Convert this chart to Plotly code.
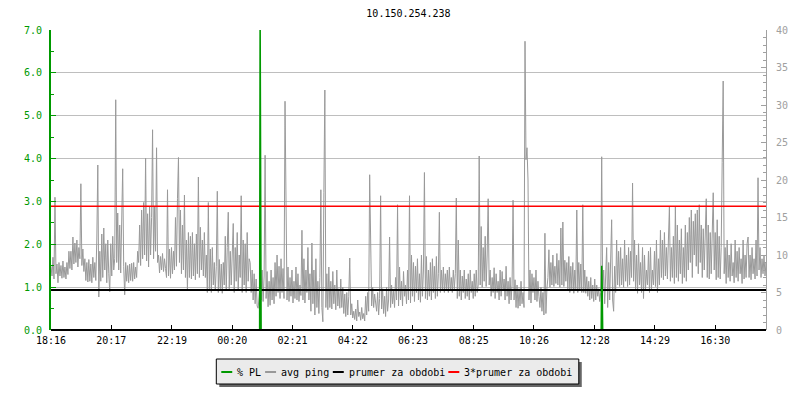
import plotly.graph_objs as go

# %% data (ping in ms on the right axis, packet loss in % on the left)
host = "10.150.254.238"

tick_minutes = [0, 121, 243, 364, 485, 606, 727, 849, 970, 1092, 1213, 1334]
tick_labels = ["18:16", "20:17", "22:19", "00:20", "02:21", "04:22",
               "06:23", "08:25", "10:26", "12:28", "14:29", "16:30"]

# one ping sample every 2 minutes, starting 18:16
sample_minutes = list(range(0, 1440, 2))

avg_ping = [
    8.5, 7.2, 9.7, 6.8, 17.7, 7.5, 8.8, 6.3, 9.0, 7.2, 8.6, 6.9, 9.2, 7.0, 8.4, 6.8, 9.0, 7.4, 10.5, 8.2,
    10.5, 8.0, 12.4, 8.8, 11.6, 9.0, 12.0, 8.4, 11.0, 9.5, 19.5, 8.6, 10.8, 7.8, 9.5, 6.6, 9.0, 6.4, 9.4, 6.5,
    8.8, 6.3, 9.7, 7.0, 9.0, 6.6, 12.0, 22.0, 4.4, 10.5, 6.5, 12.8, 7.0, 13.6, 8.0, 11.5, 6.3, 12.0, 7.5, 5.1,
    11.5, 7.2, 12.5, 8.0, 9.5, 30.7, 9.0, 15.6, 8.0, 14.0, 7.6, 13.0, 21.5, 8.5, 4.7, 9.0, 6.5, 8.6, 6.3, 8.8,
    6.6, 8.9, 6.5, 9.0, 6.8, 8.4, 7.0, 10.5, 9.0, 14.0, 8.6, 16.0, 9.5, 17.0, 10.0, 22.9, 9.2, 15.5, 8.4, 16.5,
    10.0, 15.0, 26.7, 9.5, 16.5, 10.5, 24.3, 9.0, 10.0, 7.6, 9.8, 8.0, 10.2, 7.8, 9.5, 8.2, 7.0, 18.7, 7.2, 10.8,
    6.9, 11.0, 7.5, 10.5, 8.0, 15.0, 8.5, 17.5, 23.0, 9.0, 16.0, 7.5, 14.0, 8.0, 18.0, 7.0, 12.0, 5.3, 13.0, 7.0,
    12.5, 6.8, 13.0, 7.2, 11.5, 6.7, 12.8, 7.5, 20.4, 7.0, 13.7, 8.0, 12.0, 7.2, 13.0, 7.0, 10.0, 5.0, 17.0, 5.5,
    10.8, 5.0, 11.0, 6.0, 9.0, 5.2, 8.5, 18.5, 5.0, 9.4, 5.5, 8.8, 4.9, 9.0, 6.0, 12.5, 5.2, 11.0, 15.7, 5.5,
    10.5, 6.0, 12.0, 14.2, 5.0, 11.0, 6.5, 13.0, 5.2, 10.0, 7.0, 17.9, 5.0, 12.0, 6.0, 11.5, 5.0, 13.0, 6.5, 9.5,
    9.0, 5.0, 8.0, 4.0, 7.5, 3.5, 6.8, 3.2, 2.9, 5.0, 6.0, 4.0, 8.0, 3.8, 7.2, 23.3, 4.2, 7.8, 3.1, 6.5,
    3.3, 8.0, 4.0, 7.0, 3.5, 9.0, 4.5, 10.0, 5.0, 8.5, 4.2, 9.5, 5.0, 8.2, 4.2, 30.5, 19.9, 4.0, 8.4, 3.8,
    7.0, 4.5, 8.0, 3.6, 6.5, 4.2, 8.4, 4.0, 7.5, 3.8, 6.0, 4.6, 13.3, 4.0, 9.5, 3.6, 8.0, 5.0, 11.0, 4.0,
    7.5, 2.5, 11.6, 3.5, 8.0, 2.0, 9.5, 3.0, 6.5, 2.2, 7.0, 18.7, 3.0, 1.1, 18.3, 32.0, 3.0, 7.5, 2.7, 8.4,
    3.0, 6.5, 2.8, 7.8, 3.5, 6.0, 2.7, 8.0, 3.2, 5.5, 2.9, 6.8, 3.0, 5.7, 2.2, 4.8, 1.8, 5.0, 2.0, 4.5,
    9.6, 2.0, 3.5, 1.6, 2.5, 1.4, 2.8, 1.2, 4.0, 1.8, 2.4, 1.3, 3.0, 1.5, 2.2, 1.2, 4.5, 2.0, 5.0, 2.5,
    20.7, 12.0, 3.2, 5.7, 3.0, 4.8, 3.5, 2.5, 5.0, 2.0, 4.2, 17.9, 2.8, 5.5, 2.2, 4.5, 1.8, 5.7, 2.5, 4.0,
    12.4, 3.0, 6.0, 3.5, 5.2, 3.0, 7.0, 4.0, 16.7, 3.2, 8.4, 4.0, 6.5, 3.2, 7.8, 4.5, 6.0, 3.5, 8.0, 4.0,
    17.9, 3.6, 10.0, 4.5, 9.0, 3.8, 8.5, 5.0, 9.5, 4.0, 7.5, 3.7, 10.0, 4.5, 8.0, 21.0, 4.2, 9.8, 4.0, 8.0,
    4.5, 9.0, 4.0, 9.5, 5.0, 8.5, 4.2, 9.8, 4.5, 7.5, 15.7, 5.0, 8.0, 5.2, 8.4, 5.0, 7.5, 5.5, 8.0, 5.0,
    8.4, 5.2, 7.0, 5.0, 8.0, 5.5, 7.5, 17.6, 4.2, 12.0, 4.5, 8.0, 4.0, 7.2, 5.0, 8.0, 4.2, 6.8, 4.5, 7.5,
    4.0, 8.0, 5.0, 6.5, 4.2, 7.5, 4.5, 8.0, 5.0, 6.0, 23.2, 6.0, 13.8, 5.7, 11.0, 6.5, 12.5, 5.8, 10.0, 17.5,
    6.0, 8.0, 4.5, 7.0, 5.0, 8.3, 4.2, 7.5, 5.0, 6.5, 4.0, 8.0, 4.5, 7.8, 5.2, 6.8, 4.0, 8.5, 4.5, 6.5,
    3.5, 7.0, 4.0, 6.0, 17.3, 4.0, 6.7, 3.0, 6.0, 2.9, 5.5, 3.2, 6.5, 3.5, 5.0, 3.0, 38.5, 22.7, 24.3, 20.0,
    4.0, 8.0, 3.6, 7.5, 5.0, 7.0, 4.0, 8.0, 3.8, 6.5, 4.5, 3.0, 5.7, 2.5, 5.0, 2.0, 12.9, 2.2, 5.5, 7.0,
    10.7, 5.7, 9.0, 6.0, 10.0, 5.8, 8.5, 6.2, 10.2, 6.0, 9.3, 5.7, 13.6, 6.0, 14.4, 5.8, 9.3, 6.5, 9.0, 5.5,
    9.8, 5.0, 8.5, 5.5, 9.0, 4.9, 8.0, 5.5, 16.0, 5.0, 9.0, 5.2, 8.8, 5.0, 16.7, 5.0, 8.0, 4.9, 7.1, 4.5,
    6.5, 4.0, 7.0, 4.2, 6.0, 3.8, 6.8, 4.0, 6.0, 4.5, 5.5, 3.8, 5.0, 23.1, 5.0, 8.0, 3.5, 9.0, 11.0, 3.0,
    9.0, 4.0, 8.5, 14.7, 4.0, 2.5, 8.5, 5.0, 12.0, 6.0, 10.5, 5.8, 11.0, 6.0, 9.5, 5.7, 12.0, 6.5, 10.0, 5.8,
    11.0, 6.0, 10.5, 7.0, 19.6, 6.5, 12.0, 5.5, 10.0, 4.9, 11.5, 6.0, 9.0, 5.0, 11.0, 4.2, 10.0, 5.5, 8.0, 6.0,
    10.5, 5.0, 11.0, 5.5, 8.0, 6.0, 10.5, 5.8, 12.0, 5.0, 9.5, 6.0, 13.3, 7.0, 12.0, 6.7, 13.0, 7.2, 11.0, 6.8,
    12.0, 16.4, 6.5, 11.0, 7.0, 12.5, 6.2, 16.4, 7.0, 14.0, 6.5, 12.0, 7.5, 13.5, 6.2, 11.0, 7.0, 14.0, 6.5, 13.0,
    8.0, 15.0, 9.0, 16.0, 7.0, 14.5, 10.0, 15.5, 8.5, 16.0, 7.5, 16.7, 9.0, 14.0, 7.0, 13.5, 8.0, 12.0, 17.5, 7.0,
    14.0, 6.8, 13.0, 7.5, 12.0, 18.3, 8.0, 13.0, 6.7, 14.7, 7.0, 12.5, 6.8, 11.0, 22.3, 33.2, 7.5, 11.0, 6.2, 12.0,
    7.0, 10.0, 6.5, 11.5, 7.2, 9.0, 6.3, 12.0, 7.0, 10.5, 6.5, 11.0, 7.5, 9.5, 6.2, 12.0, 6.8, 10.0, 7.0, 11.5,
    12.4, 7.0, 10.0, 6.7, 11.0, 7.5, 9.5, 6.8, 12.0, 7.2, 20.3, 8.0, 11.0, 7.0, 9.5, 7.5, 10.0, 7.2, 9.0, 8.0,
]

# packet loss: zero except for two short bursts
pl_minutes = [0, 419, 420, 421, 422, 1105, 1106, 1107, 1108, 1436]
packet_loss = [0.0, 0.0, 7.5, 3.5, 0.0, 0.0, 1.5, 1.0, 0.0, 0.0]

period_mean = 5.33
triple_mean = 16.5

legend_names = ["% PL", "avg ping", "prumer za obdobi", "3*prumer za obdobi"]
legend_colors = ["#009900", "#999999", "#000000", "#ff0000"]

# %% figure
MONO = "DejaVu Sans Mono"
L, R, T, B = 51, 31, 30, 70
W, H = 800, 400


def px_x(px):
    return (px - L) / (W - L - R)


def px_y(py):
    return (H - B - py) / (H - T - B)


x_end = 1436

fig = go.Figure()
fig.add_trace(go.Scatter(x=sample_minutes, y=avg_ping, mode="lines",
                         line=dict(color=legend_colors[1], width=1), yaxis="y"))
fig.add_trace(go.Scatter(x=[0, x_end], y=[period_mean, period_mean], mode="lines",
                         line=dict(color=legend_colors[2], width=2), yaxis="y"))
fig.add_trace(go.Scatter(x=[0, x_end], y=[triple_mean, triple_mean], mode="lines",
                         line=dict(color=legend_colors[3], width=1.5), yaxis="y"))
fig.add_trace(go.Scatter(x=pl_minutes, y=packet_loss, mode="lines",
                         line=dict(color=legend_colors[0], width=1.5), yaxis="y2"))

shapes = [
    # x axis line drawn above the traces so the zero PL line hides under it
    dict(type="line", xref="paper", yref="paper", x0=0, x1=1, y0=0, y1=0,
         line=dict(color="black", width=2), layer="above"),
    # legend shadow and box
    dict(type="rect", xref="paper", yref="paper",
         x0=px_x(220), x1=px_x(584), y0=px_y(362), y1=px_y(387),
         fillcolor="#666666", line=dict(width=0), layer="above"),
    dict(type="rect", xref="paper", yref="paper",
         x0=px_x(217), x1=px_x(581), y0=px_y(359), y1=px_y(384),
         fillcolor="#ebebeb", line=dict(color="black", width=1), layer="above"),
]
annotations = []
legend_line_x = [222, 266, 334, 450]
legend_text_x = [236, 280, 348, 464]
for name, color, lx, tx in zip(legend_names, legend_colors, legend_line_x, legend_text_x):
    shapes.append(dict(type="line", xref="paper", yref="paper",
                       x0=px_x(lx), x1=px_x(lx + 11), y0=px_y(372), y1=px_y(372),
                       line=dict(color=color, width=2), layer="above"))
    annotations.append(dict(text=name, xref="paper", yref="paper", x=px_x(tx), y=px_y(372),
                            xanchor="left", yanchor="middle", showarrow=False,
                            font=dict(family=MONO, size=10, color="black")))

fig.update_layout(
    width=W, height=H,
    margin=dict(l=L, r=R, t=T, b=B),
    paper_bgcolor="white", plot_bgcolor="white",
    showlegend=False,
    hovermode=False,
    title=dict(text=host, x=0.5, xref="paper", xanchor="center",
               y=1 - 13 / H, yanchor="middle",
               font=dict(family=MONO, size=10, color="black")),
    xaxis=dict(range=[0, x_end], tickvals=tick_minutes, ticktext=tick_labels,
               showgrid=False, zeroline=False, showline=False,
               ticks="inside", ticklen=5, tickcolor="black", tickwidth=1,
               tickfont=dict(family=MONO, size=10, color="black"),
               ticklabelstandoff=3),
    yaxis=dict(range=[0, 40], side="right", dtick=5, showgrid=False, zeroline=False,
               showline=True, linecolor="#a0a0a0", linewidth=1,
               ticks="inside", ticklen=5, tickcolor="#a0a0a0",
               minor=dict(dtick=1, ticks="inside", ticklen=3, tickcolor="#a0a0a0"),
               tickfont=dict(family=MONO, size=10, color="#a0a0a0"),
               ticklabelstandoff=7),
    yaxis2=dict(range=[0, 7], overlaying="y", side="left", dtick=1, tickformat=".1f",
                showgrid=True, gridcolor="#bebebe", gridwidth=1, zeroline=False,
                showline=True, linecolor="#009900", linewidth=2,
                ticks="inside", ticklen=5, tickcolor="#009900",
                minor=dict(dtick=0.5, ticks="inside", ticklen=3, tickcolor="#009900"),
                tickfont=dict(family=MONO, size=10, color="#009900"),
                ticklabelstandoff=5),
    shapes=shapes,
    annotations=annotations,
)

# the page's default body margin would shift the 800x400 figure
fig.write_html("out.html", config={"displayModeBar": False},
               post_script="document.body.style.margin = '0';")
